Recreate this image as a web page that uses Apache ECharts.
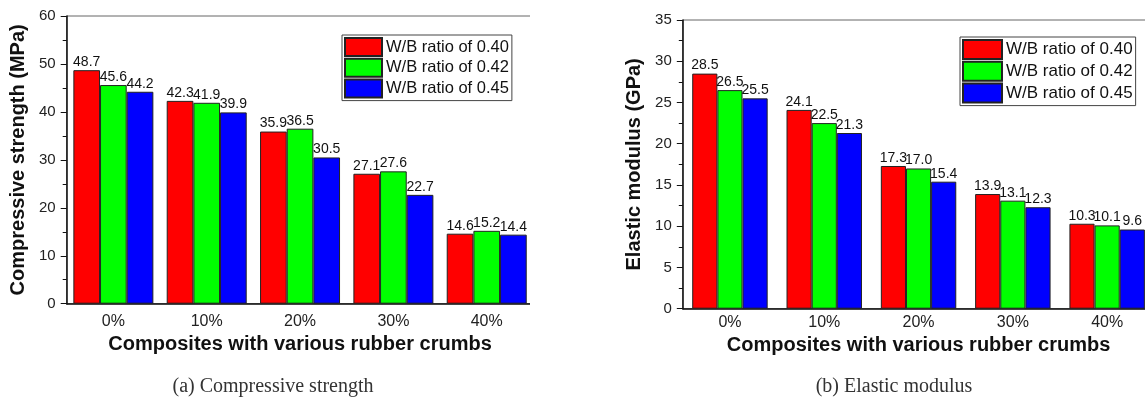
<!DOCTYPE html>
<html>
<head>
<meta charset="utf-8">
<script src="https://cdn.jsdelivr.net/npm/echarts@6/dist/echarts.min.js"></script>
<style>
html,body{margin:0;padding:0;background:#fff;}
#wrap{position:relative;width:1145px;height:399px;overflow:hidden;}
#a{position:absolute;left:0;top:0;width:530px;height:399px;}
#b{position:absolute;left:560px;top:0;width:585px;height:399px;}
</style>
</head>
<body>
<div id="wrap"><div id="a"></div><div id="b"></div></div>
<script>
const categories = ['0%', '10%', '20%', '30%', '40%'];
const seriesNames = ['W/B ratio of 0.40', 'W/B ratio of 0.42', 'W/B ratio of 0.45'];
const strength040 = [48.7, 42.3, 35.9, 27.1, 14.6];
const strength042 = [45.6, 41.9, 36.5, 27.6, 15.2];
const strength045 = [44.2, 39.9, 30.5, 22.7, 14.4];
const modulus040 = [28.5, 24.1, 17.3, 13.9, 10.3];
const modulus042 = [26.5, 22.5, 17.0, 13.1, 10.1];
const modulus045 = [25.5, 21.3, 15.4, 12.3, 9.6];
const colors = ['#ff0000', '#00ff00', '#0000ff'];

const FONT = 'Liberation Sans, Arial, sans-serif';
const SERIF = '20px "Liberation Serif", "Times New Roman", serif';

function mkSeries(data, idx, gap) {
  return {
    name: seriesNames[idx], type: 'bar',
    data: data, barGap: '0%', barCategoryGap: gap,
    itemStyle: {color: colors[idx], borderColor: '#222', borderWidth: 1},
    label: {show: true, position: 'top', distance: 1, fontSize: 14, fontFamily: FONT, color: '#111',
      formatter: p => p.value.toFixed(1)},
    emphasis: {disabled: true}, animation: false
  };
}
function mkY(max, interval, name, gap) {
  return {
    type: 'value', min: 0, max: max, interval: interval,
    name: name, nameLocation: 'middle', nameGap: gap, nameRotate: 90,
    nameTextStyle: {fontSize: 20, fontWeight: 'bold', fontFamily: FONT, color: '#111'},
    axisLine: {show: true, lineStyle: {color: '#111', width: 1.5}},
    axisTick: {show: true, inside: false, length: 6, lineStyle: {color: '#111'}},
    minorTick: {show: true, splitNumber: 2, length: 4, lineStyle: {color: '#111'}},
    splitLine: {show: false},
    axisLabel: {fontSize: 15, fontFamily: FONT, color: '#222', margin: 11}
  };
}
function mkX(labelMargin, nameGap) {
  return {
    type: 'category', data: categories,
    name: 'Composites with various rubber crumbs', nameLocation: 'middle', nameGap: nameGap,
    nameTextStyle: {fontSize: 20, fontWeight: 'bold', fontFamily: FONT, color: '#111'},
    axisLine: {show: true, lineStyle: {color: '#111', width: 1.5}},
    axisTick: {show: false},
    axisLabel: {fontSize: 16, fontFamily: FONT, color: '#222', margin: labelMargin}
  };
}
function mkLegend(left, top, w, h, fs) {
  return {
    data: seriesNames, orient: 'vertical', left: left, top: top,
    itemWidth: w, itemHeight: h, itemGap: 0.8,
    padding: [2, 3, 2, 2], borderColor: '#444', borderWidth: 1, backgroundColor: '#fff',
    icon: 'rect', selectedMode: false,
    textStyle: {fontSize: fs, fontFamily: FONT, color: '#111', lineHeight: h - 1, padding: [0, 0, 0, -1]}
  };
}

const chartA = echarts.init(document.getElementById('a'), null, {renderer: 'canvas'});
chartA.setOption({
  animation: false,
  backgroundColor: '#fff',
  grid: {left: 66.7, top: 16, width: 466.7, height: 287.7, show: true, borderColor: '#666', borderWidth: 1, outerBoundsMode: 'none', containLabel: false},
  legend: mkLegend(342, 35, 37, 18, 16.5),
  xAxis: mkX(10, 31),
  yAxis: mkY(60, 10, 'Compressive strength (MPa)', 38),
  series: [mkSeries(strength040, 0, '14.3%'), mkSeries(strength042, 1, '14.3%'), mkSeries(strength045, 2, '14.3%')],
  graphic: [
    {type: 'text', style: {text: '(a) Compressive strength', x: 273, y: 387, font: SERIF, fill: '#333', textAlign: 'center', textVerticalAlign: 'middle'}}
  ]
});

const OFF = 560;
const chartB = echarts.init(document.getElementById('b'), null, {renderer: 'canvas'});
chartB.setOption({
  animation: false,
  backgroundColor: '#fff',
  grid: {left: 682.8 - OFF, top: 20, width: 471.5, height: 288.7, show: true, borderColor: '#666', borderWidth: 1, outerBoundsMode: 'none', containLabel: false},
  legend: mkLegend(960 - OFF, 37, 39, 19, 17),
  xAxis: mkX(6, 26),
  yAxis: mkY(35, 5, 'Elastic modulus (GPa)', 38),
  series: [mkSeries(modulus040, 0, '20%'), mkSeries(modulus042, 1, '20%'), mkSeries(modulus045, 2, '20%')],
  graphic: [
    {type: 'text', style: {text: '(b) Elastic modulus', x: 894 - OFF, y: 387, font: SERIF, fill: '#333', textAlign: 'center', textVerticalAlign: 'middle'}}
  ]
});
</script>
</body>
</html>
